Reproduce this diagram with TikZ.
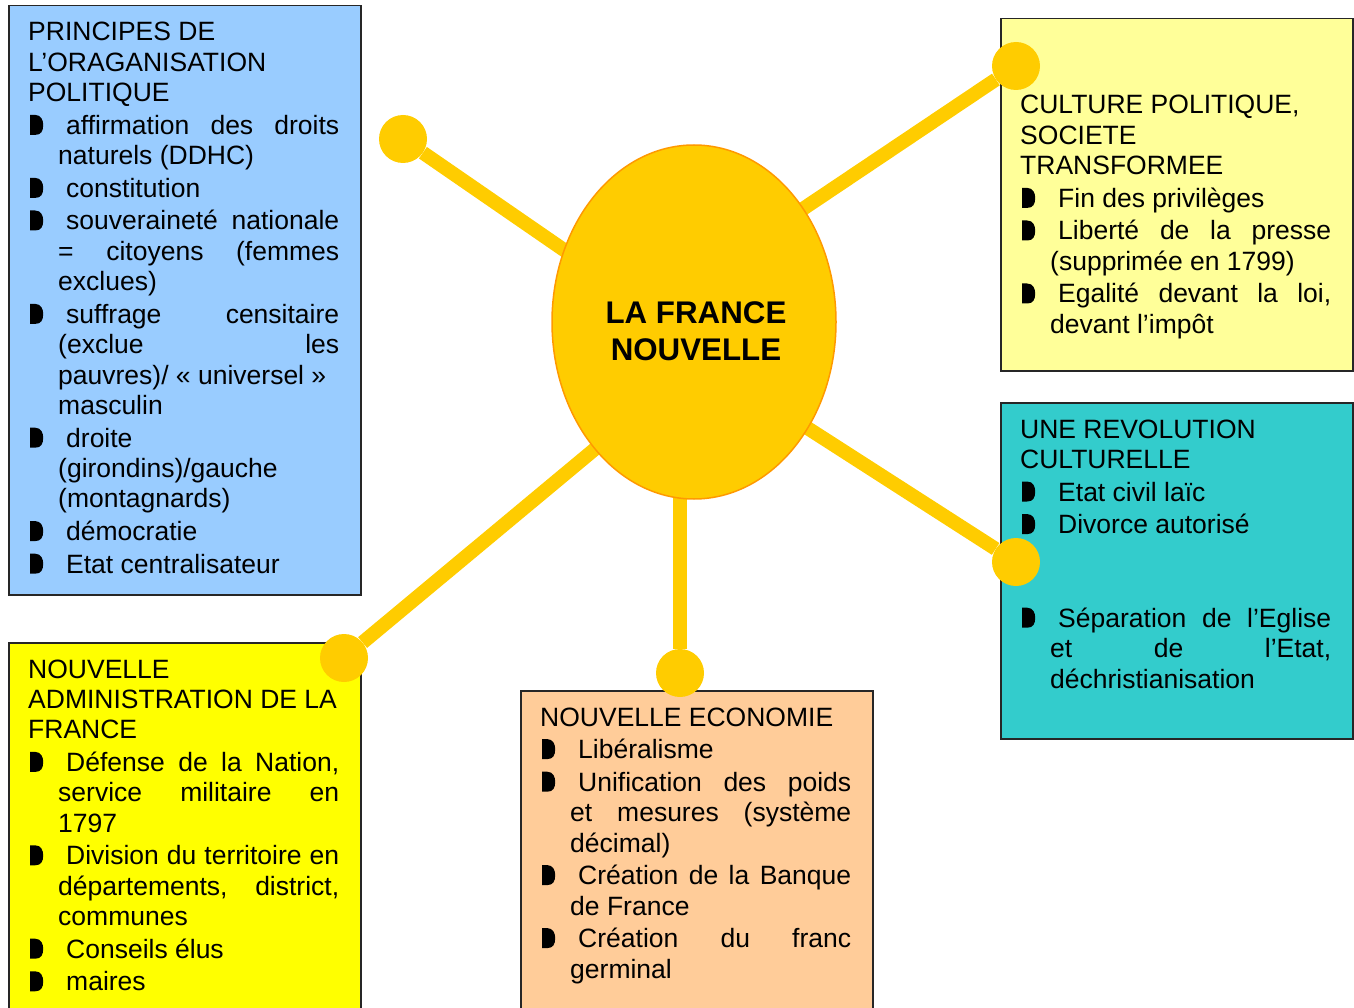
\documentclass[tikz,border=0pt]{standalone}
\usepackage{fontspec}
\setmainfont{Liberation Sans}
\usetikzlibrary{shapes.geometric,backgrounds}

\definecolor{bleu}{HTML}{99CCFF}
\definecolor{jauneclair}{HTML}{FFFF99}
\definecolor{turquoise}{HTML}{33CCCC}
\definecolor{jaune}{HTML}{FFFF00}
\definecolor{peche}{HTML}{FFCC99}
\definecolor{soleil}{HTML}{FFCC00}
\definecolor{bord}{HTML}{FF9900}

\hyphenpenalty=10000
\exhyphenpenalty=10000

\newcommand{\puce}{\tikz[baseline=0pt]\fill[black] (0pt,-0.5pt) -- (0pt,19.5pt) -- (5pt,19.5pt) .. controls (11pt,19.5pt) and (13pt,14pt) .. (13pt,9.5pt) .. controls (13pt,3.5pt) and (11pt,-0.5pt) .. (5pt,-0.5pt) -- cycle;}
\newcommand{\elem}{\par\vspace{2.2pt}\hangindent=30pt\hangafter=1\noindent\makebox[38pt][l]{\hspace*{2pt}\puce}}

\begin{document}
\begin{tikzpicture}[x=1pt,y=-1pt]
        \tikzstyle{boite}=[draw=black!85,line width=1.5pt,anchor=north west,inner sep=0pt,minimum width=352pt]
        \tikzstyle{texte}=[anchor=base west,text width=311pt,inner sep=0pt,align=justify,font=\fontsize{26.5}{30.4}\selectfont]
        \tikzstyle{pastille}=[circle,fill=soleil,minimum size=48pt,inner sep=0pt]
        \tikzstyle{rayon}=[draw=soleil,line width=14pt,shorten >=-12pt]

      \useasboundingbox (0,0) rectangle (1354,1008);

      \begin{scope}
         \node[boite,fill=bleu,minimum height=589pt] (b1) at (8,5) {};
         \node[boite,fill=jauneclair,minimum height=352pt] (b2) at (1000,18) {};
         \node[boite,fill=turquoise,minimum height=336pt] (b3) at (1000,402) {};
         \node[boite,fill=jaune,minimum height=380pt] (b4) at (8,642) {};
         \node[boite,fill=peche,minimum height=330pt] (b5) at (520,690) {};

         \node[texte] (p1) at (28,41) {PRINCIPES DE\\L’ORAGANISATION\\POLITIQUE
            \elem affirmation des droits\linebreak naturels (DDHC)
            \elem constitution
            \elem souveraineté nationale\linebreak = citoyens (femmes\linebreak exclues)
            \elem suffrage censitaire\linebreak (exclue les\linebreak pauvres)/ «~universel~»\\masculin
            \elem droite\\(girondins)/gauche\\(montagnards)
            \elem démocratie
            \elem Etat centralisateur\par};

         \node[texte] (p2) at (1020,114) {CULTURE POLITIQUE,\\SOCIETE\\TRANSFORMEE
            \elem Fin des privilèges
            \elem Liberté de la presse\linebreak (supprimée en 1799)
            \elem Egalité devant la loi,\linebreak devant l’impôt\par};

         \node[texte] (p3) at (1020,438) {UNE REVOLUTION\\CULTURELLE
            \elem Etat civil laïc
            \elem Divorce autorisé\par\vspace{61pt}
            \elem Séparation de l’Eglise\linebreak et de l’Etat,\linebreak déchristianisation\par};

         \node[texte] (p4) at (28,678) {NOUVELLE\\ADMINISTRATION DE LA\\FRANCE
            \elem Défense de la Nation,\linebreak service militaire en\linebreak 1797
            \elem Division du territoire en\linebreak départements, district,\linebreak communes
            \elem Conseils élus
            \elem maires\par};

         \node[texte] (p5) at (540,726) {NOUVELLE ECONOMIE
            \elem Libéralisme
            \elem Unification des poids\linebreak et mesures (système\linebreak décimal)
            \elem Création de la Banque\linebreak de France
            \elem Création du franc\linebreak germinal\par};

         \node[ellipse,fill=soleil,draw=bord,line width=1.5pt,minimum width=284pt,minimum height=354pt,inner sep=0pt] (c0) at (694,322) {};
         \node[align=center,font=\bfseries\fontsize{31.3}{37}\selectfont] (t0) at (696,331) {LA FRANCE\\NOUVELLE};

         \node[pastille] (r1) at (403,139) {};
         \node[pastille] (r2) at (1016,66) {};
         \node[pastille] (r3) at (1016,562) {};
         \node[pastille] (r4) at (680,673) {};
         \node[pastille] (r5) at (344,658) {};

         \begin{scope}[on background layer]
            \draw[rayon] (r1) -- (c0.151);
            \draw[rayon] (r2) -- (c0.46);
            \draw[rayon] (r3) -- (c0.-43);
            \draw[rayon] (r4) -- (r4 |- c0.south);
            \draw[rayon] (r5) -- (c0.-128);
         \end{scope}
      \end{scope}
    \end{tikzpicture}
\end{document}
